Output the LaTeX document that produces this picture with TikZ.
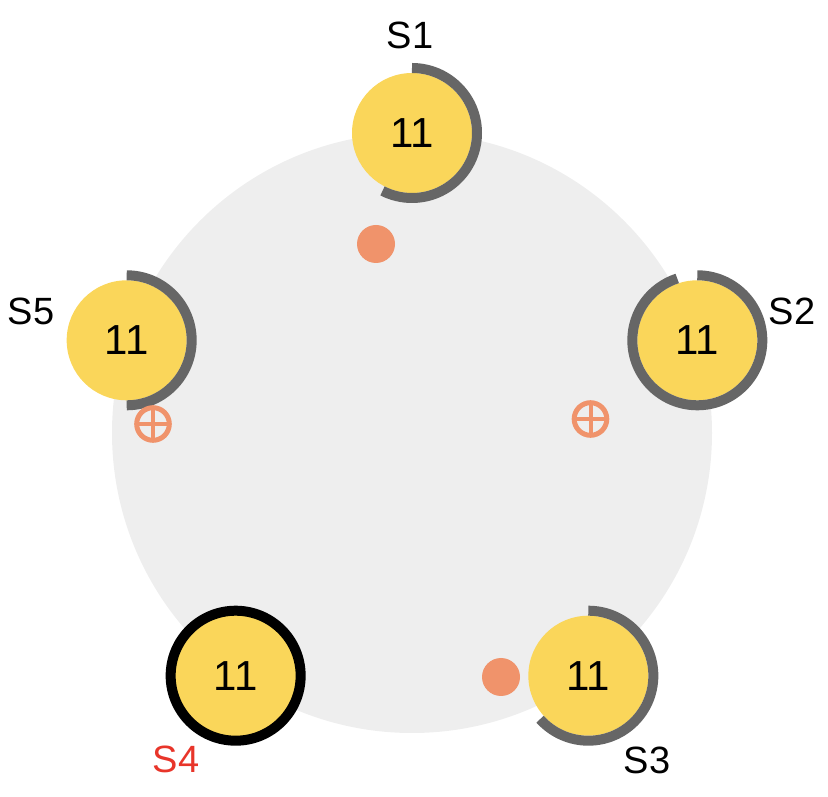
\documentclass[tikz,border=0pt]{standalone}
\usepackage{fontspec}
\setmainfont{Liberation Sans}
\usetikzlibrary{positioning}

\definecolor{sunyellow}{HTML}{FAD65A}
\definecolor{ringgrey}{HTML}{EEEEEE}
\definecolor{loadgrey}{HTML}{666666}
\definecolor{peach}{HTML}{F0936B}
\definecolor{alertred}{HTML}{E8352A}

\begin{document}
\begin{tikzpicture}[
    x=1pt, y=1pt,
    font=\fontsize{38}{40}\selectfont
]

    % Styles for the ring of servers
    \tikzset{
        ring/.style={circle, fill=ringgrey, minimum size=600pt, inner sep=0pt},
        server/.style={
            circle,
            fill=sunyellow,
            minimum size=120pt,
            inner sep=0pt,
            font=\fontsize{42}{44}\selectfont
        },
        leader/.style={server, draw=black, line width=10pt, minimum size=130pt},
        load/.style={draw=loadgrey, line width=10pt},
        token/.style={circle, fill=peach, minimum size=38pt, inner sep=0pt},
        xtoken/.style={circle, draw=peach, line width=5pt, minimum size=32.6pt, inner sep=0pt, outer sep=0pt}
    }

    \useasboundingbox (0,0) rectangle (828,796);

    % Background ring
    \node[ring] (ring) at (412,363) {};

    % Servers on the ring
    \node[server] (s1) at ([shift={(90:300)}]ring.center) {11};
    \node[server] (s2) at ([shift={(18:300)}]ring.center) {11};
    \node[server] (s3) at ([shift={(-54:300)}]ring.center) {11};
    \node[leader] (s4) at ([shift={(-126:300)}]ring.center) {11};
    \node[server] (s5) at ([shift={(162:300)}]ring.center) {11};

    % Progress arcs (start at top, go clockwise)
    \draw[load] ([shift={(90:65)}]s1.center) arc[start angle=90, end angle=-117, radius=65];
    \draw[load] ([shift={(90:65)}]s2.center) arc[start angle=90, end angle=-252, radius=65];
    \draw[load] ([shift={(90:65)}]s3.center) arc[start angle=90, end angle=-138, radius=65];
    \draw[load] ([shift={(90:65)}]s5.center) arc[start angle=90, end angle=-90, radius=65];

    % Server names
    \node (n1) at (410,761) {S1};
    \node (n2) at (792,485) {S2};
    \node (n3) at (647,36) {S3};
    \node[text=alertred] (n4) at (176,37) {S4};
    \node (n5) at (31,485) {S5};

    % Messages in flight
    \node[token] (m1) at (376,552) {};
    \node[token] (m3) at (501,119) {};

    \node[xtoken] (x2) at (590.5,377) {};
    \draw[peach, line width=4pt] (x2.north) -- (x2.south);
    \draw[peach, line width=4pt] (x2.west) -- (x2.east);

    \node[xtoken] (x5) at (153,372) {};
    \draw[peach, line width=4pt] (x5.north) -- (x5.south);
    \draw[peach, line width=4pt] (x5.west) -- (x5.east);

\end{tikzpicture}
\end{document}
